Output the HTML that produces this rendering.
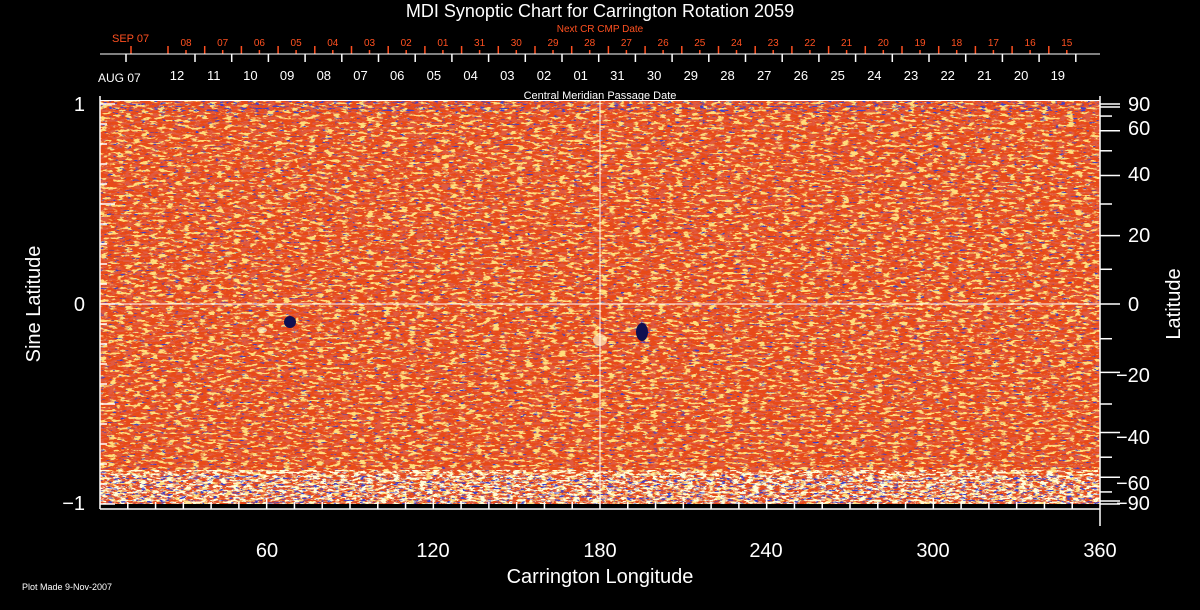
<!DOCTYPE html>
<html><head><meta charset="utf-8"><style>
html,body{margin:0;padding:0;background:#000;}
svg{display:block}
text{font-family:"Liberation Sans",sans-serif;}
</style></head><body>
<svg width="1200" height="610" viewBox="0 0 1200 610" xmlns="http://www.w3.org/2000/svg">
<defs>
<filter id="fy" x="0" y="0" width="100%" height="100%"><feTurbulence type="fractalNoise" baseFrequency="0.12 0.4" numOctaves="3" seed="3"/><feColorMatrix type="matrix" values="0 0 0 0 1 0 0 0 0 0.72 0 0 0 0 0.2 1 0 0 0 0"/><feComponentTransfer><feFuncA type="linear" slope="12" intercept="-6.6"/></feComponentTransfer></filter>
<filter id="fr" x="0" y="0" width="100%" height="100%"><feTurbulence type="fractalNoise" baseFrequency="0.12 0.4" numOctaves="3" seed="11"/><feColorMatrix type="matrix" values="0 0 0 0 0.75 0 0 0 0 0.1 0 0 0 0 0.05 1 0 0 0 0"/><feComponentTransfer><feFuncA type="linear" slope="12" intercept="-6.0"/></feComponentTransfer></filter>
<filter id="fb" x="0" y="0" width="100%" height="100%"><feTurbulence type="fractalNoise" baseFrequency="0.15 0.5" numOctaves="3" seed="27"/><feColorMatrix type="matrix" values="0 0 0 0 0.05 0 0 0 0 0.05 0 0 0 0 0.55 1 0 0 0 0"/><feComponentTransfer><feFuncA type="linear" slope="14" intercept="-9.6"/></feComponentTransfer></filter>
<filter id="fw" x="0" y="0" width="100%" height="100%"><feTurbulence type="fractalNoise" baseFrequency="0.15 0.5" numOctaves="3" seed="41"/><feColorMatrix type="matrix" values="0 0 0 0 1 0 0 0 0 1 0 0 0 0 0.7 1 0 0 0 0"/><feComponentTransfer><feFuncA type="linear" slope="12" intercept="-6.0"/></feComponentTransfer></filter>
<filter id="fb2" x="0" y="0" width="100%" height="100%"><feTurbulence type="fractalNoise" baseFrequency="0.15 0.5" numOctaves="3" seed="55"/><feColorMatrix type="matrix" values="0 0 0 0 0.05 0 0 0 0 0.05 0 0 0 0 0.6 1 0 0 0 0"/><feComponentTransfer><feFuncA type="linear" slope="12" intercept="-7.4"/></feComponentTransfer></filter>
</defs>
<rect x="100" y="100" width="1000" height="404" fill="#e84a18"/>
<rect x="100" y="100" width="1000" height="404" filter="url(#fr)"/>
<rect x="100" y="100" width="1000" height="404" filter="url(#fy)"/>
<rect x="100" y="100" width="1000" height="404" filter="url(#fb)"/>
<rect x="100" y="470" width="1000" height="34" filter="url(#fw)"/>
<rect x="100" y="475" width="1000" height="29" filter="url(#fb2)"/>
<rect x="100" y="100" width="1000" height="12" filter="url(#fb2)"/>
<g fill="#101050">
<ellipse cx="290" cy="322" rx="6" ry="6"/>
<ellipse cx="642" cy="332" rx="6" ry="9"/>
</g>
<g fill="#fff4c0" opacity="0.7">
<ellipse cx="262" cy="330" rx="5" ry="3"/>
<ellipse cx="600" cy="340" rx="7" ry="6"/>
</g>
<line x1="100" y1="304" x2="1100" y2="304" stroke="#fff" stroke-width="1"/>
<line x1="600" y1="100" x2="600" y2="504" stroke="#fff" stroke-width="1"/>
<line x1="100" y1="100.5" x2="1100" y2="100.5" stroke="#fff"/>
<g stroke="#fff" stroke-width="1.5" fill="none">
<line x1="100" y1="509" x2="1100" y2="509"/>
<line x1="100" y1="96" x2="100" y2="509"/>
<line x1="1100" y1="96" x2="1100" y2="526"/>
</g>
<g id="bt" stroke="#fff" stroke-width="1.5"></g>
<g id="lt" stroke="#fff" stroke-width="1.5"></g>
<g id="rt" stroke="#fff" stroke-width="1.5"></g>
<g id="tt"></g>
<g fill="#fff" font-size="20" text-anchor="middle">
<text x="267" y="557">60</text><text x="433" y="557">120</text><text x="600" y="557">180</text>
<text x="766" y="557">240</text><text x="933" y="557">300</text><text x="1100" y="557">360</text>
</g>
<g fill="#fff" font-size="20" text-anchor="end">
<text x="85" y="111">1</text><text x="85" y="311">0</text><text x="85" y="510">−1</text>
</g>
<g fill="#fff" font-size="20" text-anchor="start">
<text x="1128" y="111">90</text><text x="1128" y="135">60</text><text x="1128" y="181">40</text>
<text x="1128" y="242">20</text><text x="1128" y="311">0</text><text x="1116" y="382">−20</text>
<text x="1116" y="444">−40</text><text x="1116" y="490">−60</text><text x="1116" y="510">−90</text>
</g>
<text x="600" y="583" fill="#fff" font-size="20" text-anchor="middle">Carrington Longitude</text>
<text x="600" y="17" fill="#fff" font-size="18" text-anchor="middle">MDI Synoptic Chart for Carrington Rotation 2059</text>
<text x="40" y="304" fill="#fff" font-size="20" text-anchor="middle" transform="rotate(-90 40 304)">Sine Latitude</text>
<text x="1180" y="304" fill="#fff" font-size="20" text-anchor="middle" transform="rotate(-90 1180 304)">Latitude</text>
<text x="600" y="99" fill="#fff" font-size="11" text-anchor="middle">Central Meridian Passage Date</text>
<text x="600" y="32" fill="#ff5020" font-size="10" text-anchor="middle">Next CR CMP Date</text>
<text x="112" y="42" fill="#ff5020" font-size="11">SEP 07</text>
<text x="98" y="82" fill="#fff" font-size="12">AUG 07</text>
<text x="22" y="590" fill="#fff" font-size="9">Plot Made  9-Nov-2007</text>
<line x1="100" y1="54" x2="1100" y2="54" stroke="#fff"/>
</svg>
<script>
var NS="http://www.w3.org/2000/svg";
function L(g,x1,y1,x2,y2,c){var l=document.createElementNS(NS,"line");l.setAttribute("x1",x1);l.setAttribute("y1",y1);l.setAttribute("x2",x2);l.setAttribute("y2",y2);if(c)l.setAttribute("stroke",c);l.setAttribute("stroke-width","1.5");g.appendChild(l);}
function T(g,x,y,s,c,fs){var t=document.createElementNS(NS,"text");t.setAttribute("x",x);t.setAttribute("y",y);t.setAttribute("fill",c);t.setAttribute("font-size",fs);t.setAttribute("text-anchor","middle");t.textContent=s;g.appendChild(t);}
var bt=document.getElementById("bt");
for(var d=10;d<360;d+=10){var x=100+d*1000/360;L(bt,x,509,x,d%60==0?498:502);}
var lt=document.getElementById("lt");
for(var v=-1;v<=1.001;v+=0.1){var y=304-200*v;var big=Math.abs(Math.round(v*10))%5==0;L(lt,100,y,big?115:107,y);}
var rt=document.getElementById("rt");
[-90,-80,-70,-60,-50,-40,-30,-20,-10,0,10,20,30,40,50,60,70,80,90].forEach(function(a){var y=304-200*Math.sin(a*Math.PI/180);L(rt,1100,y,a%20==0||Math.abs(a)==90||Math.abs(a)==60?1120:1112,y);});
var tt=document.getElementById("tt");
var w=["12","11","10","09","08","07","06","05","04","03","02","01","31","30","29","28","27","26","25","24","23","22","21","20","19"];
for(var i=0;i<w.length;i++){var x=177+i*36.7;T(tt,x,80,w[i],"#fff",13);L(tt,x+18,54,x+18,62,"#fff");}
L(tt,126,54,126,62,"#fff");
var o=["08","07","06","05","04","03","02","01","31","30","29","28","27","26","25","24","23","22","21","20","19","18","17","16","15"];
for(var i=0;i<o.length;i++){var x=186+i*36.7;T(tt,x,46,o[i],"#ff5020",10);L(tt,x,54,x,50,"#ff5020");L(tt,x-18,54,x-18,46,"#ff5020");}
L(tt,131,54,131,46,"#ff5020");
</script>
</body></html>
